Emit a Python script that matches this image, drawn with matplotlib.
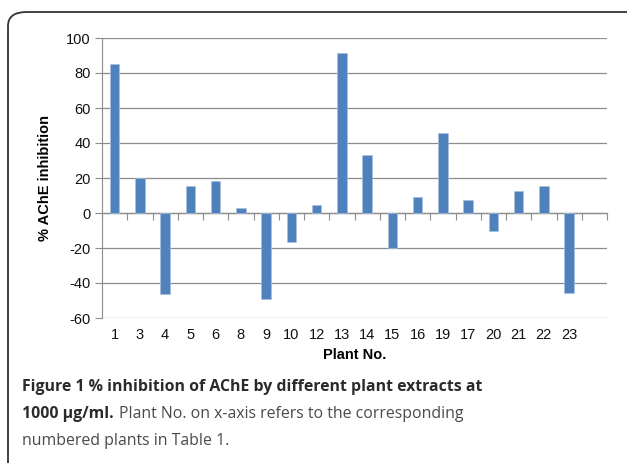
import matplotlib
matplotlib.use('Agg')
import matplotlib.pyplot as plt
from matplotlib.patches import FancyBboxPatch

plt.rcParams['axes.unicode_minus'] = False

# plant numbers in the order they appear on the x-axis (20th slot is empty)
plants = ['1', '3', '4', '5', '6', '8', '9', '10', '12', '13', '14', '15',
          '16', '19', '17', '20', '21', '22', '23']
inhibition = [85, 20, -46, 15.4, 18.5, 2.6, -49, -16.5, 4.5, 91.4, 33, -20.2,
              9.1, 46, 7.2, -10.3, 12.4, 15.2, -45.5]
yticks = [-60, -40, -20, 0, 20, 40, 60, 80, 100]

W, H = 627, 463
fig = plt.figure(figsize=(W / 100, H / 100), dpi=100)

# rounded border round the whole figure panel (runs off right and bottom)
box = FancyBboxPatch((8 / W, -0.05), 1.1, 1 - 12 / H + 0.05,
                     boxstyle='round,pad=0,rounding_size=0.03',
                     transform=fig.transFigure, facecolor='none',
                     edgecolor='#333333', linewidth=1.3, clip_on=False)
fig.patches.append(box)

ax = fig.add_axes([102 / W, 1 - 318 / H, (607 - 102) / W, (318 - 38) / H])
x = list(range(len(plants)))
ax.bar(x, inhibition, width=0.37, color='#4f81bd', edgecolor='#a7c0de',
       linewidth=0.5, zorder=3)

ax.set_ylim(-60, 100)
ax.set_xlim(-0.5, len(plants) + 0.5)
ax.set_yticks(yticks)
ax.yaxis.grid(True, color='#8c8c8c', linewidth=0.9)
ax.set_axisbelow(True)
ax.tick_params(axis='y', length=5, color='#8c8c8c', labelsize=10.5,
               pad=3, labelcolor='#111111')
for lab in ax.get_yticklabels():
    lab.set_family('Liberation Sans')

for s in ['top', 'right']:
    ax.spines[s].set_visible(False)
ax.spines['left'].set_color('#8c8c8c')
ax.spines['bottom'].set_position(('data', 0))
ax.spines['bottom'].set_color('#8c8c8c')
ax.spines['bottom'].set_linewidth(0.9)

# category boundary ticks on the zero line
ax.set_xticks([i - 0.5 for i in range(len(plants) + 2)])
ax.set_xticklabels([])
ax.tick_params(axis='x', length=5, color='#8c8c8c', direction='out')

# plant labels at the bottom of the plot area
sec = ax.secondary_xaxis('bottom')
sec.set_xticks(x, labels=plants)
sec.tick_params(length=0, pad=7, labelsize=10.5, labelcolor='#111111')
sec.spines['bottom'].set_visible(False)
for lab in sec.get_xticklabels():
    lab.set_family('Liberation Sans')

ax.set_ylabel('% AChE inhibition', fontsize=10.5, fontweight='bold',
              family='Liberation Sans', labelpad=10)
fig.text(355 / W, 1 - 355 / H, 'Plant No.', fontsize=10.5, fontweight='bold',
         family='Liberation Sans', ha='center', va='center')

# caption
cap_font = 'Open Sans'
fs = 11.4
fig.text(22 / W, 1 - 387 / H,
         'Figure 1 % inhibition of AChE by different plant extracts at',
         fontsize=fs, fontweight='bold', family=cap_font, color='#2b2b2b',
         va='center')
t1 = fig.text(22 / W, 1 - 414 / H, '1000 \u00b5g/ml.', fontsize=fs,
              fontweight='bold', family=cap_font, color='#2b2b2b', va='center')
fig.canvas.draw()
bb = t1.get_window_extent(fig.canvas.get_renderer())
fig.text(bb.x1 / W + 5 / W, 1 - 414 / H,
         'Plant No. on x-axis refers to the corresponding',
         fontsize=fs, family=cap_font, color='#4a4a4a', va='center')
fig.text(22 / W, 1 - 441 / H, 'numbered plants in Table 1.', fontsize=fs,
         family=cap_font, color='#4a4a4a', va='center')

fig.savefig('out.png', dpi=100)
